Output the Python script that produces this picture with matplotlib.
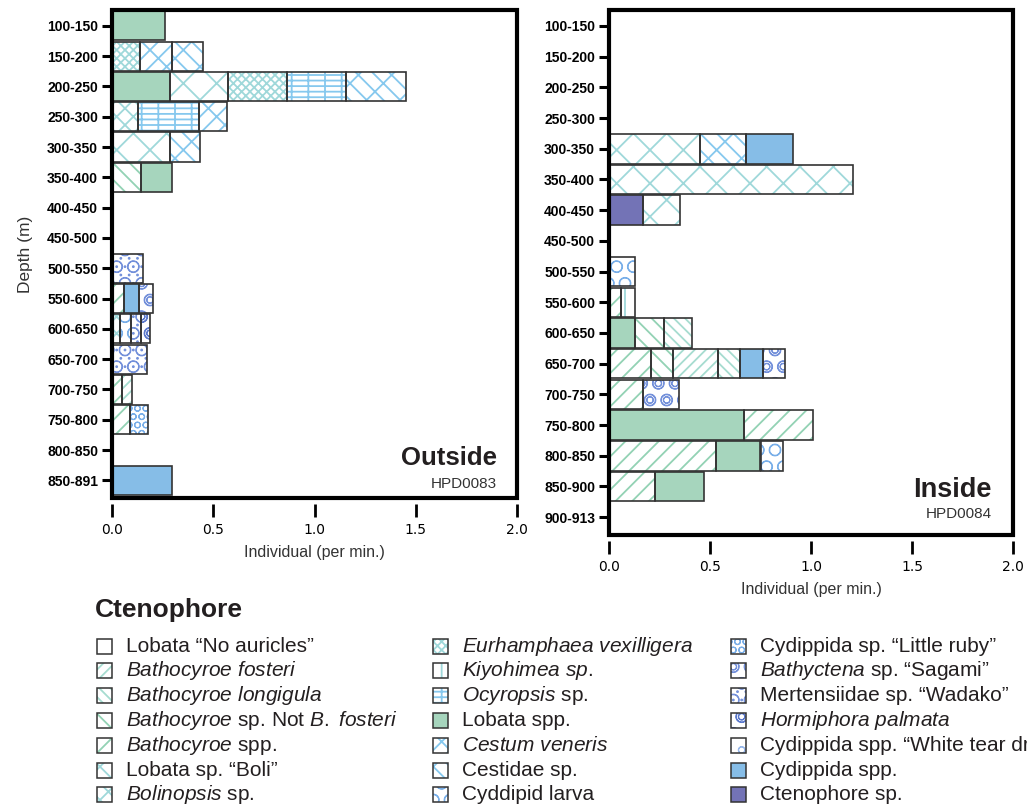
import matplotlib
matplotlib.use("Agg")
import matplotlib.pyplot as plt
from matplotlib.patches import Rectangle

plt.rcParams["mathtext.fontset"] = "custom"
plt.rcParams["mathtext.rm"] = "Liberation Sans"
plt.rcParams["mathtext.it"] = "Liberation Sans:italic"
plt.rcParams["hatch.linewidth"] = 1.3

# depth bins
depth_out = ["100-150", "150-200", "200-250", "250-300", "300-350", "350-400",
             "400-450", "450-500", "500-550", "550-600", "600-650", "650-700",
             "700-750", "750-800", "800-850", "850-891"]
depth_in = ["100-150", "150-200", "200-250", "250-300", "300-350", "350-400",
            "400-450", "450-500", "500-550", "550-600", "600-650", "650-700",
            "700-750", "750-800", "800-850", "850-900", "900-913"]

# Outside (HPD0083): one entry per stacked segment, in stacking order
out_bin = ["100-150",
           "150-200", "150-200", "150-200",
           "200-250", "200-250", "200-250", "200-250", "200-250",
           "250-300", "250-300", "250-300",
           "300-350", "300-350",
           "350-400", "350-400",
           "500-550",
           "550-600", "550-600", "550-600",
           "600-650", "600-650", "600-650", "600-650",
           "650-700",
           "700-750", "700-750",
           "750-800", "750-800",
           "850-891"]
out_taxon = ["Lobata spp.",
             "Eurhamphaea vexilligera", "Cestum veneris", "Cestidae sp.",
             "Lobata spp.", "Lobata sp. Boli", "Eurhamphaea vexilligera", "Ocyropsis sp.", "Cestidae sp.",
             "Bolinopsis sp.", "Ocyropsis sp.", "Cestum veneris",
             "Lobata sp. Boli", "Cestidae sp.",
             "Bathocyroe sp. Not B. fosteri", "Lobata spp.",
             "Mertensiidae sp. Wadako",
             "Bathocyroe spp.", "Cydippida spp.", "Bathyctena sp. Sagami",
             "Bolinopsis sp.", "Cyddipid larva", "Mertensiidae sp. Wadako", "Hormiphora palmata",
             "Mertensiidae sp. Wadako",
             "Bathocyroe spp.", "Bathocyroe fosteri",
             "Bathocyroe spp.", "Cydippida sp. Little ruby",
             "Cydippida spp."]
out_rate = [0.26,
            0.14, 0.155, 0.152,
            0.284, 0.29, 0.292, 0.292, 0.292,
            0.13, 0.30, 0.14,
            0.284, 0.151,
            0.142, 0.152,
            0.153,
            0.061, 0.073, 0.069,
            0.041, 0.053, 0.05, 0.046,
            0.173,
            0.048, 0.051,
            0.091, 0.087,
            0.294]

# Inside (HPD0084)
in_bin = ["300-350", "300-350", "300-350",
          "350-400",
          "400-450", "400-450",
          "500-550",
          "550-600", "550-600",
          "600-650", "600-650", "600-650",
          "650-700", "650-700", "650-700", "650-700", "650-700", "650-700",
          "700-750", "700-750",
          "750-800", "750-800",
          "800-850", "800-850", "800-850",
          "850-900", "850-900"]
in_taxon = ["Lobata sp. Boli", "Cestidae sp.", "Cydippida spp.",
            "Lobata sp. Boli",
            "Ctenophore sp.", "Lobata sp. Boli",
            "Cyddipid larva",
            "Bathocyroe spp.", "Kiyohimea sp.",
            "Lobata spp.", "Bathocyroe sp. Not B. fosteri", "Bathocyroe longigula",
            "Bathocyroe spp.", "Bathocyroe sp. Not B. fosteri", "Bathocyroe fosteri",
            "Bathocyroe longigula", "Cydippida spp.", "Bathyctena sp. Sagami",
            "Bathocyroe spp.", "Bathyctena sp. Sagami",
            "Lobata spp.", "Bathocyroe spp.",
            "Bathocyroe spp.", "Lobata spp.", "Cyddipid larva",
            "Bathocyroe spp.", "Lobata spp."]
in_rate = [0.45, 0.23, 0.23,
           1.21,
           0.17, 0.18,
           0.127,
           0.06, 0.067,
           0.127, 0.143, 0.14,
           0.207, 0.109, 0.222, 0.112, 0.11, 0.11,
           0.168, 0.178,
           0.668, 0.342,
           0.53, 0.22, 0.11,
           0.227, 0.243]

# legend order (three columns of seven) and the drawn labels
taxa = ["Lobata No auricles", "Bathocyroe fosteri", "Bathocyroe longigula",
        "Bathocyroe sp. Not B. fosteri", "Bathocyroe spp.", "Lobata sp. Boli",
        "Bolinopsis sp.",
        "Eurhamphaea vexilligera", "Kiyohimea sp.", "Ocyropsis sp.", "Lobata spp.",
        "Cestum veneris", "Cestidae sp.", "Cyddipid larva",
        "Cydippida sp. Little ruby", "Bathyctena sp. Sagami", "Mertensiidae sp. Wadako",
        "Hormiphora palmata", "Cydippida spp. White tear drop", "Cydippida spp.",
        "Ctenophore sp."]
taxa_labels = ["Lobata “No auricles”",
               r"$\mathit{Bathocyroe\ fosteri}$",
               r"$\mathit{Bathocyroe\ longigula}$",
               r"$\mathit{Bathocyroe}$ sp. Not $\mathit{B.\ fosteri}$",
               r"$\mathit{Bathocyroe}$ spp.",
               "Lobata sp. “Boli”",
               r"$\mathit{Bolinopsis}$ sp.",
               r"$\mathit{Eurhamphaea\ vexilligera}$",
               r"$\mathit{Kiyohimea\ sp.}$",
               r"$\mathit{Ocyropsis}$ sp.",
               "Lobata spp.",
               r"$\mathit{Cestum\ veneris}$",
               "Cestidae sp.",
               "Cyddipid larva",
               "Cydippida sp. “Little ruby”",
               r"$\mathit{Bathyctena}$ sp. “Sagami”",
               "Mertensiidae sp. “Wadako”",
               r"$\mathit{Hormiphora\ palmata}$",
               "Cydippida spp. “White tear drop”",
               "Cydippida spp.",
               "Ctenophore sp."]

green = "#93d2b4"
teal = "#a6dcd0"
cyan = "#9fd8da"
sky = "#86c8ee"
blue = "#78aee8"
violet = "#7390da"

# fill colour, hatch, hatch colour
style = {
    "Lobata No auricles": ("white", "/", green),
    "Bathocyroe fosteri": ("white", "///", teal),
    "Bathocyroe longigula": ("white", "\\\\\\", teal),
    "Bathocyroe sp. Not B. fosteri": ("white", "\\\\", green),
    "Bathocyroe spp.": ("white", "//", green),
    "Lobata sp. Boli": ("white", "x", cyan),
    "Bolinopsis sp.": ("white", "xx", cyan),
    "Eurhamphaea vexilligera": ("white", "xxxx", cyan),
    "Kiyohimea sp.": ("white", "|", cyan),
    "Ocyropsis sp.": ("white", "---|", sky),
    "Lobata spp.": ("#a6d5bd", None, None),
    "Cestum veneris": ("white", "//\\", sky),
    "Cestidae sp.": ("white", "\\\\/", sky),
    "Cyddipid larva": ("white", "O", blue),
    "Cydippida sp. Little ruby": ("white", "OO", blue),
    "Bathyctena sp. Sagami": ("white", "Oo", violet),
    "Mertensiidae sp. Wadako": ("white", "O..", violet),
    "Hormiphora palmata": ("white", "oO", "#5a78cc"),
    "Cydippida spp. White tear drop": ("white", "o", "#98b8ea"),
    "Cydippida spp.": ("#86bde7", None, None),
    "Ctenophore sp.": ("#7373b6", None, None),
}


def hatch_width(hatch):
    # ring patterns read better with a thinner stroke
    if hatch and any(c in hatch for c in "oO."):
        return 0.8
    return 1.3


def draw_panel(ax, bins, seg_bin, seg_taxon, seg_rate):
    ypos = {b: i for i, b in enumerate(bins)}
    filled = {b: 0.0 for b in bins}
    for b, t, w in zip(seg_bin, seg_taxon, seg_rate):
        fc, hatch, hc = style[t]
        y = ypos[b]
        with plt.rc_context({"hatch.linewidth": hatch_width(hatch)}):
            bars = ax.barh(y, w, left=filled[b], height=0.96, color=fc,
                           edgecolor=hc if hc else fc, linewidth=0,
                           hatch=hatch, zorder=2)
        for p in bars:
            if hasattr(p, "set_hatch_linewidth"):
                p.set_hatch_linewidth(hatch_width(hatch))
        ax.barh(y, w, left=filled[b], height=0.96, fill=False,
                edgecolor="#333333", linewidth=1.2, zorder=3)
        filled[b] += w

    ax.set_xlim(0, 2.0)
    ax.set_ylim(len(bins) - 0.42, -0.52)
    ax.set_yticks(range(len(bins)))
    ax.set_yticklabels(bins, fontsize=10, fontweight="bold",
                       family="Liberation Sans")
    ax.set_xticks([0, 0.5, 1.0, 1.5, 2.0])
    ax.set_xticklabels(["0.0", "0.5", "1.0", "1.5", "2.0"], fontsize=10.5,
                       fontweight="bold", family="Liberation Sans")
    for s in ax.spines.values():
        s.set_visible(False)
    ax.spines["bottom"].set_position(("outward", 4))
    ax.add_patch(Rectangle((0, 0), 1, 1, transform=ax.transAxes, fill=False,
                           linewidth=3, edgecolor="black", clip_on=False, zorder=5))
    ax.tick_params(axis="y", length=7, width=2.2, pad=3)
    ax.tick_params(axis="x", length=9, width=2, pad=5)
    ax.set_xlabel("Individual (per min.)", fontsize=11.5, family="Liberation Sans",
                  color="#333333", labelpad=6)


fig = plt.figure(figsize=(10.27, 8.11), dpi=100)

ax_out = fig.add_axes([112 / 1027, 1 - 498 / 811, 405 / 1027, 488 / 811])
draw_panel(ax_out, depth_out, out_bin, out_taxon, out_rate)
ax_out.set_ylabel("Depth (m)", fontsize=12.5, family="Liberation Sans",
                  color="#333333", labelpad=10)
ax_out.text(0.951, 0.068, "Outside", transform=ax_out.transAxes, ha="right",
            va="baseline", fontsize=18.5, fontweight="bold",
            family="Liberation Sans", color="#231f20")
ax_out.text(0.951, 0.02, "HPD0083", transform=ax_out.transAxes, ha="right",
            va="baseline", fontsize=11, family="Liberation Sans", color="#333333")

ax_in = fig.add_axes([609 / 1027, 1 - 535 / 811, 404 / 1027, 525 / 811])
draw_panel(ax_in, depth_in, in_bin, in_taxon, in_rate)
ax_in.text(0.948, 0.072, "Inside", transform=ax_in.transAxes, ha="right",
           va="baseline", fontsize=19.5, fontweight="bold",
           family="Liberation Sans", color="#231f20")
ax_in.text(0.948, 0.032, "HPD0084", transform=ax_in.transAxes, ha="right",
           va="baseline", fontsize=11, family="Liberation Sans", color="#333333")

# legend drawn in pixel coordinates on a full-figure overlay
leg = fig.add_axes([0, 0, 1, 1])
leg.set_xlim(0, 1027)
leg.set_ylim(811, 0)
leg.axis("off")
leg.text(95, 617, "Ctenophore", fontsize=19, fontweight="bold",
         family="Liberation Sans", color="#231f20", va="baseline")
col_x = [97, 433, 731]
for i, (t, lab) in enumerate(zip(taxa, taxa_labels)):
    col, row = divmod(i, 7)
    x0 = col_x[col]
    yc = 646 + row * 24.8
    fc, hatch, hc = style[t]
    with plt.rc_context({"hatch.linewidth": hatch_width(hatch)}):
        sw = Rectangle((x0, yc - 7.5), 15, 15, facecolor=fc,
                       edgecolor=hc if hc else fc, linewidth=0, hatch=hatch)
    if hasattr(sw, "set_hatch_linewidth"):
        sw.set_hatch_linewidth(hatch_width(hatch))
    leg.add_patch(sw)
    leg.add_patch(Rectangle((x0, yc - 7.5), 15, 15, fill=False,
                            edgecolor="#333333", linewidth=1.1))
    leg.text(x0 + 29, yc, lab, fontsize=15, family="Liberation Sans",
             va="center", ha="left", color="#231f20")

fig.savefig("out.png", dpi=100)
